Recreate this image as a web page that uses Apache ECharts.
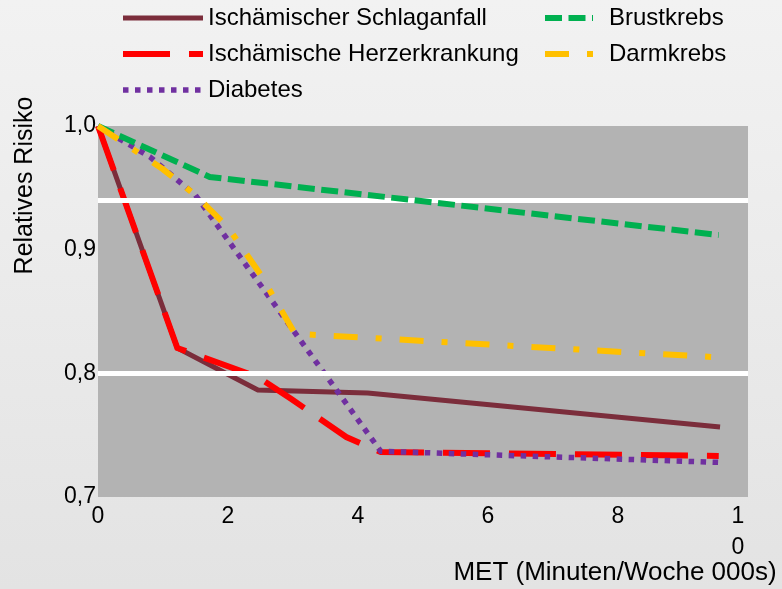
<!DOCTYPE html>
<html>
<head>
<meta charset="utf-8">
<script src="https://cdn.jsdelivr.net/npm/echarts@6/dist/echarts.min.js"></script>
<style>
html,body{margin:0;padding:0;}
#c{width:782px;height:589px;}
</style>
</head>
<body>
<div id="c"></div>
<script>
// ---- data (MET in 000s min/week, relative risk) ----
const seriesNames = ['Ischämischer Schlaganfall', 'Ischämische Herzerkrankung', 'Diabetes', 'Brustkrebs', 'Darmkrebs'];
const strokeX = [0, 1.22, 2.46, 4.15, 9.57];
const strokeY = [1.0, 0.8205, 0.7865, 0.784, 0.7566];
const heartX = [0, 1.22, 2.46, 2.98, 3.82, 4.35, 9.55];
const heartY = [1.0, 0.8205, 0.797, 0.779, 0.7485, 0.7364, 0.7332];
const diabetesX = [0, 0.8, 1.5, 4.35, 9.55];
const diabetesY = [1.0, 0.975, 0.944, 0.737, 0.728];
const breastX = [0, 1.72, 9.55];
const breastY = [1.0, 0.9588, 0.9119];
const colonX = [0, 1.0, 1.5, 2.0, 2.5, 3.03, 9.52];
const colonY = [1.0, 0.965, 0.944, 0.918, 0.88, 0.832, 0.813];
const xTicks = [0, 2, 4, 6, 8, 10];
const yTicks = [0.7, 0.8, 0.9, 1.0];
const refLines = [0.8, 0.938];
const xName = 'MET (Minuten/Woche 000s)';
const yName = 'Relatives Risiko';

const zip = (xs, ys) => xs.map((x, i) => [x, ys[i]]);
const FONT = 'Liberation Sans, Arial, sans-serif';

const styles = [
  { color: '#7b2d3b', width: 5, type: 'solid', z: 2 },
  { color: '#ff0000', width: 6, type: [47, 19], z: 3 },
  { color: '#7030a0', width: 5.5, type: [5.5, 6.5], z: 4 },
  { color: '#00b050', width: 6, type: [17, 6.5], z: 5 },
  { color: '#ffc000', width: 6, type: [24, 18, 6, 18], z: 6 }
];
const dataSets = [zip(strokeX, strokeY), zip(heartX, heartY), zip(diabetesX, diabetesY), zip(breastX, breastY), zip(colonX, colonY)];

const series = seriesNames.map((n, i) => ({
  name: n,
  type: 'line',
  data: dataSets[i],
  symbol: 'none',
  z: styles[i].z,
  lineStyle: { color: styles[i].color, width: styles[i].width, type: styles[i].type, cap: 'butt', join: 'miter' },
  itemStyle: { color: styles[i].color }
}));
series.unshift({
  name: 'ref',
  type: 'line',
  data: [],
  z: 1,
  markLine: {
    silent: true,
    symbol: ['none', 'none'],
    label: { show: false },
    lineStyle: { color: '#ffffff', width: 5, type: 'solid' },
    data: refLines.map(v => ({ yAxis: v }))
  }
});

const legendItem = (i) => ({
  name: seriesNames[i],
  itemStyle: { opacity: 0 },
  lineStyle: { width: styles[i].width, type: styles[i].type, color: styles[i].color, opacity: 1 }
});

const chart = echarts.init(document.getElementById('c'));
chart.setOption({
  animation: false,
  backgroundColor: { type: 'linear', x: 0, y: 0, x2: 0, y2: 1,
    colorStops: [{ offset: 0, color: '#f2f2f2' }, { offset: 1, color: '#e3e3e3' }] },
  grid: { left: 98, top: 126, width: 650, height: 371, show: true, backgroundColor: '#b3b3b3', borderWidth: 0,
    containLabel: false, outerBoundsMode: 'none' },
  legend: [
    { orient: 'vertical', left: 120, top: 6, padding: 0, itemWidth: 80, itemHeight: 24, itemGap: 12,
      textStyle: { fontFamily: FONT, fontSize: 24, color: '#000', lineHeight: 24 },
      data: [legendItem(0), legendItem(1), legendItem(2)] },
    { orient: 'vertical', left: 542, top: 6, padding: 0, itemWidth: 48, itemHeight: 24, itemGap: 12,
      textStyle: { fontFamily: FONT, fontSize: 24, color: '#000', lineHeight: 24, padding: [0, 0, 0, 11] },
      data: [legendItem(3), legendItem(4)] }
  ],
  xAxis: {
    type: 'value', min: xTicks[0], max: xTicks[xTicks.length - 1], interval: 2,
    axisLine: { show: false }, axisTick: { show: false }, splitLine: { show: false },
    axisLabel: { fontFamily: FONT, fontSize: 23, color: '#000', margin: 4, lineHeight: 31,
      formatter: v => (v === 10 ? '{s|1}\n{s|0}' : String(v)),
      rich: { s: { fontFamily: FONT, fontSize: 23, color: '#000', lineHeight: 31, padding: [0, 20, 0, 0] } } },
    name: xName, nameLocation: 'middle', nameGap: 63, nameMoveOverlap: false,
    nameTextStyle: { fontFamily: FONT, fontSize: 26, color: '#000', padding: [0, 0, 0, 384] }
  },
  yAxis: {
    type: 'value', min: yTicks[0], max: yTicks[yTicks.length - 1], interval: 0.1,
    axisLine: { show: false }, axisTick: { show: false }, splitLine: { show: false },
    axisLabel: { fontFamily: FONT, fontSize: 23, color: '#000', margin: 2,
      formatter: v => v.toFixed(1).replace('.', ',') },
    name: yName, nameLocation: 'middle', nameGap: 60, nameRotate: 90, nameMoveOverlap: false,
    nameTextStyle: { fontFamily: FONT, fontSize: 25, color: '#000', padding: [0, 0, 0, 252] }
  },
  series: series
});
</script>
</body>
</html>
